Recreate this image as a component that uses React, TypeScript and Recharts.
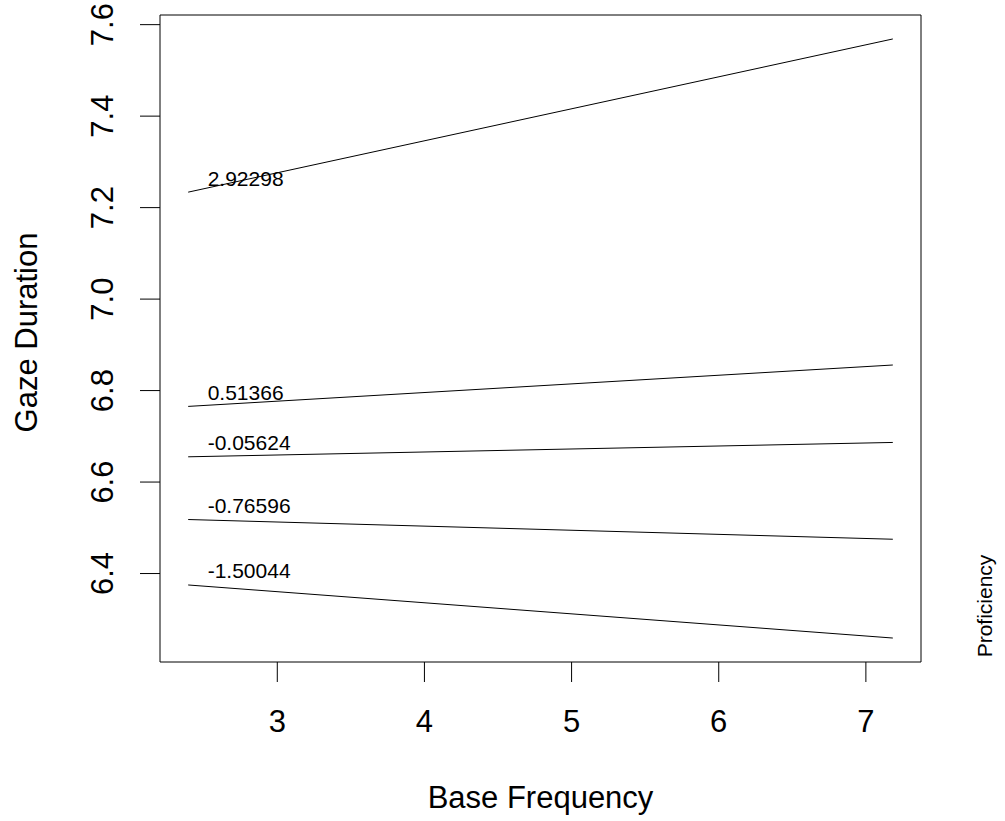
import { LineChart, Line, XAxis, YAxis, ReferenceArea, LabelList, Label } from "recharts";

// end points of each fitted line
const baseFrequency = [2.3945, 7.183];
const proficiency = ["2.92298", "0.51366", "-0.05624", "-0.76596", "-1.50044"];
const gazeP292298 = [7.2338, 7.5687];
const gazeP051366 = [6.7654, 6.8559];
const gazeM005624 = [6.6552, 6.6866];
const gazeM076596 = [6.5181, 6.475];
const gazeM150044 = [6.375, 6.259];

const xTicks = [3, 4, 5, 6, 7];
const yTicks = [6.4, 6.6, 6.8, 7.0, 7.2, 7.4, 7.6];

const seriesValues = [gazeP292298, gazeP051366, gazeM005624, gazeM076596, gazeM150044];
const keys = proficiency.map((_, i) => `p${i}`);

const data = baseFrequency.map((freq, i) => {
  const row: Record<string, number> = { freq };
  seriesValues.forEach((vals, s) => {
    row[keys[s]] = vals[i];
  });
  return row;
});

// R pads the data range by 4% on each side
const pad = (v: number[]): [number, number] => {
  const lo = Math.min(...v);
  const hi = Math.max(...v);
  const d = (hi - lo) * 0.04;
  return [lo - d, hi + d];
};
const xDomain = pad(baseFrequency);
const yDomain = pad(seriesValues.flat());

const FONT = "'Liberation Sans', Arial, sans-serif";

const YTick = ({ x, y, payload }: any) => (
  <text
    x={x}
    y={y}
    transform={`rotate(-90 ${x} ${y})`}
    textAnchor="middle"
    fontSize={31}
    fill="#000"
  >
    {Number(payload.value).toFixed(1)}
  </text>
);

const lineLabel = (name: string) => (props: any) => {
  if (props.index !== 0) return null;
  return (
    <text x={props.x + 19.5} y={props.y - 6.5} fontSize={21} fill="#000">
      {name}
    </text>
  );
};

export default function App() {
  return (
    <div style={{ position: "absolute", left: 0, top: 0, background: "#fff", fontFamily: FONT }}>
      <LineChart width={1005} height={821} data={data} margin={{ top: 15, right: 0, bottom: 0, left: 0 }}>
        <XAxis
          dataKey="freq"
          type="number"
          domain={xDomain}
          allowDataOverflow
          ticks={xTicks}
          interval={0}
          height={159}
          axisLine={false}
          tickSize={20}
          tickMargin={28}
          tickLine={{ stroke: "#000" }}
          tick={{ fontSize: 31, fill: "#000" }}
        >
          <Label
            content={({ viewBox }: any) => (
              <text
                x={viewBox.x + viewBox.width / 2}
                y={viewBox.y + 146}
                textAnchor="middle"
                fontSize={31}
                fill="#000"
              >
                Base Frequency
              </text>
            )}
          />
        </XAxis>
        <YAxis
          type="number"
          domain={yDomain}
          allowDataOverflow
          ticks={yTicks}
          interval={0}
          width={160}
          axisLine={false}
          tickSize={20}
          tickMargin={27}
          tickLine={{ stroke: "#000" }}
          tick={<YTick />}
        >
          <Label
            content={({ viewBox }: any) => {
              const cx = 37;
              const cy = viewBox.y + viewBox.height / 2 - 6;
              return (
                <text x={cx} y={cy} transform={`rotate(-90 ${cx} ${cy})`} textAnchor="middle" fontSize={31} fill="#000">
                  Gaze Duration
                </text>
              );
            }}
          />
        </YAxis>
        <YAxis
          yAxisId="right"
          orientation="right"
          type="number"
          domain={yDomain}
          allowDataOverflow
          width={84}
          axisLine={false}
          tickLine={false}
          tick={false}
        >
          <Label
            content={({ viewBox }: any) => {
              const cx = viewBox.x + 71;
              const cy = 606;
              return (
                <text x={cx} y={cy} transform={`rotate(-90 ${cx} ${cy})`} textAnchor="middle" fontSize={21} fill="#000">
                  Proficiency
                </text>
              );
            }}
          />
        </YAxis>
        <ReferenceArea
          x1={xDomain[0]}
          x2={xDomain[1]}
          y1={yDomain[0]}
          y2={yDomain[1]}
          fill="none"
          fillOpacity={0}
          stroke="#000"
          strokeWidth={1}
        />
        {keys.map((k, i) => (
          <Line
            key={k}
            dataKey={k}
            type="linear"
            stroke="#000"
            strokeWidth={1}
            dot={false}
            activeDot={false}
            isAnimationActive={false}
          >
            <LabelList dataKey={k} content={lineLabel(proficiency[i])} />
          </Line>
        ))}
      </LineChart>
    </div>
  );
}
